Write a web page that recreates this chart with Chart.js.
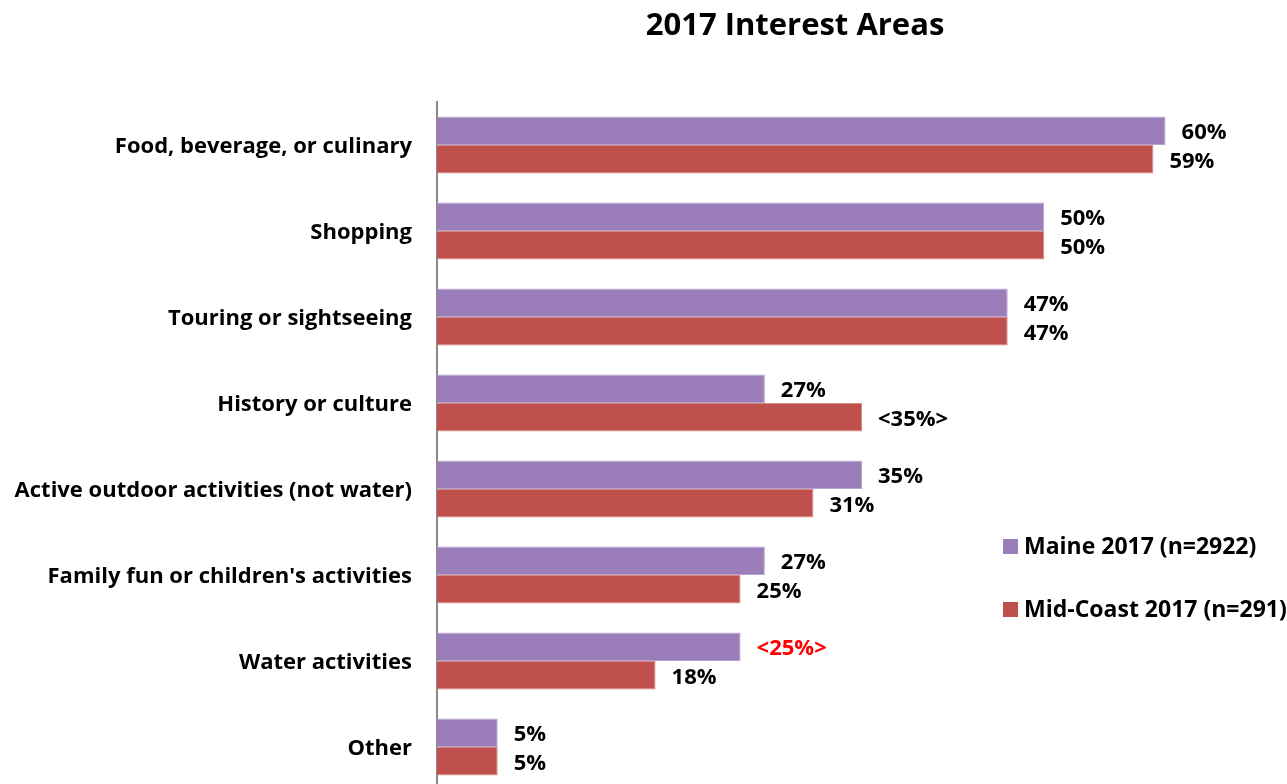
<!DOCTYPE html>
<html>
<head>
<meta charset="utf-8">
<title>2017 Interest Areas</title>
<script src="https://cdn.jsdelivr.net/npm/chart.js@4.4.1/dist/chart.umd.min.js"></script>
<style>
  html, body { margin: 0; padding: 0; background: #fff; overflow: hidden; }
  #grafico { display: block; }
</style>
</head>
<body>
<canvas id="grafico" width="1287" height="790"></canvas>
<script>
// categories and values (percent)
const categorias = [
    'Food, beverage, or culinary',
    'Shopping',
    'Touring or sightseeing',
    'History or culture',
    'Active outdoor activities (not water)',
    "Family fun or children's activities",
    'Water activities',
    'Other'
];
const maine = [60, 50, 47, 27, 35, 27, 25, 5];
const midCoast = [59, 50, 47, 35, 31, 25, 18, 5];

// values shown as <xx%> and the colour of each value label
const maineMarcado = [false, false, false, false, false, false, true, false];
const midMarcado = [false, false, false, true, false, false, false, false];
const maineColorEtiqueta = ['#000', '#000', '#000', '#000', '#000', '#000', '#ff0000', '#000'];
const midColorEtiqueta = ['#000', '#000', '#000', '#000', '#000', '#000', '#000', '#000'];

const series = ['Maine 2017 (n=2922)', 'Mid-Coast 2017 (n=291)'];
const colores = ['#9b7eb9', '#c0504d'];
const bordes = ['#b7a3cd', '#d68a88'];

const fuente = '"Open Sans", sans-serif';

const titulo = {
    id: 'titulo',
    afterDraw(chart) {
        const ctx = chart.ctx;
        ctx.save();
        ctx.font = `bold 31px ${fuente}`;
        ctx.fillStyle = '#000';
        ctx.textAlign = 'center';
        ctx.textBaseline = 'alphabetic';
        ctx.fillText('2017 Interest Areas', 795, 35);
        ctx.restore();
    }
};

const etiquetas = {
    id: 'etiquetas',
    afterDatasetsDraw(chart) {
        const ctx = chart.ctx;
        const marcados = [maineMarcado, midMarcado];
        const colorEt = [maineColorEtiqueta, midColorEtiqueta];
        ctx.save();
        ctx.font = `bold 22px ${fuente}`;
        ctx.textAlign = 'left';
        ctx.textBaseline = 'middle';
        chart.data.datasets.forEach((ds, i) => {
            chart.getDatasetMeta(i).data.forEach((bar, j) => {
                let txt = ds.data[j] + '%';
                if (marcados[i][j]) txt = '<' + txt + '>';
                ctx.fillStyle = colorEt[i][j];
                ctx.fillText(txt, bar.x + 16, bar.y + 2);
            });
        });
        ctx.restore();
    }
};

const leyenda = {
    id: 'leyenda',
    afterDraw(chart) {
        const ctx = chart.ctx;
        const filas = [546, 609];
        ctx.save();
        ctx.font = `bold 23px ${fuente}`;
        ctx.textAlign = 'left';
        ctx.textBaseline = 'middle';
        chart.data.datasets.forEach((ds, i) => {
            ctx.fillStyle = ds.backgroundColor;
            ctx.fillRect(1003, filas[i] - 7, 15, 15);
            ctx.fillStyle = '#000';
            ctx.fillText(ds.label, 1024, filas[i] + 1);
        });
        ctx.restore();
    }
};

new Chart(document.querySelector('#grafico'), {
    type: 'bar',
    data: {
        labels: categorias,
        datasets: [
            {
                label: series[0],
                data: maine,
                backgroundColor: colores[0],
                borderColor: bordes[0],
                borderWidth: 1,
                categoryPercentage: 0.665,
                barPercentage: 1.0
            },
            {
                label: series[1],
                data: midCoast,
                backgroundColor: colores[1],
                borderColor: bordes[1],
                borderWidth: 1,
                categoryPercentage: 0.665,
                barPercentage: 1.0
            }
        ]
    },
    options: {
        indexAxis: 'y',
        responsive: false,
        animation: false,
        layout: { padding: { top: 102, left: 0, right: 0, bottom: 0 } },
        plugins: {
            legend: { display: false },
            title: { display: false },
            tooltip: { enabled: false }
        },
        scales: {
            x: {
                display: false,
                min: 0,
                max: 70
            },
            y: {
                afterFit(scale) {
                    scale.width = 437;
                    scale.paddingTop = 0;
                    scale.paddingBottom = 0;
                },
                grid: { display: false, drawTicks: false },
                border: { display: true, color: '#8a8a8a', width: 2 },
                ticks: {
                    padding: 25,
                    labelOffset: 2,
                    color: '#000',
                    font: { family: fuente, size: 22, weight: 'bold' }
                }
            }
        }
    },
    plugins: [titulo, etiquetas, leyenda]
});
</script>
</body>
</html>
